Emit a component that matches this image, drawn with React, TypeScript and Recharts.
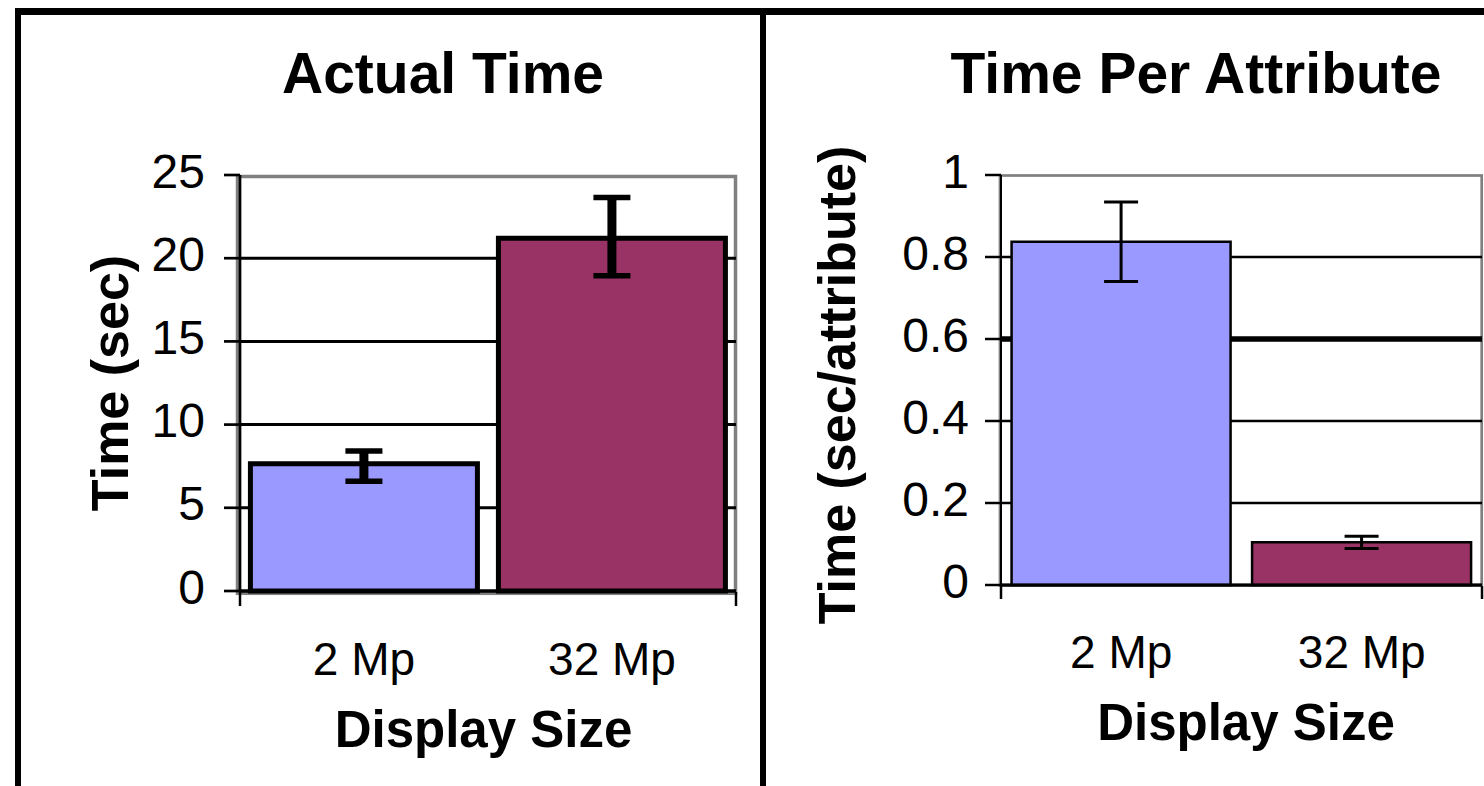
import React from 'react';
import { BarChart, Bar, XAxis, YAxis, CartesianGrid, ErrorBar, Cell } from 'recharts';

const categories = ['2 Mp', '32 Mp'];
const barColors = ['#9999FF', '#993366'];
const actualTime = [7.65, 21.2];
const actualTimeErr: [number, number][] = [[1.06, 0.76], [2.25, 2.45]];
const perAttribute = [0.837, 0.104];
const perAttributeErr = [0.097, 0.015];
const actualTicks = [0, 5, 10, 15, 20, 25];
const perAttributeTicks = [0, 0.2, 0.4, 0.6, 0.8, 1];
const boundaryTicks = [0, 1, 2];

const actualData = categories.map((c, i) => ({ name: c, value: actualTime[i], err: actualTimeErr[i] }));
const perAttrData = categories.map((c, i) => ({ name: c, value: perAttribute[i], err: perAttributeErr[i] }));

const FONT = '"Liberation Sans", Arial, Helvetica, sans-serif';

// layout
const L = { left: 0, width: 760, height: 786, plotX: 240, plotY: 175, plotR: 736, plotB: 591 };
const R = { left: 766, width: 718, height: 786, plotX: 1001, plotY: 175, plotR: 1482, plotB: 585 };
const AX = 1; // axis reserved size

const makeGrid = (top: number, bottom: number, domainMax: number, thickValue: number | null, normalW: number, thickW: number) =>
  (p: any) => {
    if (Math.abs(p.y1 - top) < 1) return <g key={p.key} />;
    const yThick = thickValue == null ? -999 : bottom - (thickValue / domainMax) * (bottom - top);
    const w = Math.abs(p.y1 - yThick) < 1.5 ? thickW : normalW;
    return <line key={p.key} x1={p.x1} y1={p.y1} x2={p.x2} y2={p.y2} stroke="#000" strokeWidth={w} />;
  };

const NoLabel = () => <g />;

export default function App() {
  return (
    <div style={{ position: 'absolute', left: 0, top: 0, width: 1484, height: 786, background: '#fff', overflow: 'hidden' }}>
      <svg width={1484} height={786} style={{ position: 'absolute', left: 0, top: 0 }}>
        <rect x={15} y={8} width={1469} height={7} fill="#000" />
        <rect x={15} y={8} width={6} height={778} fill="#000" />
        <rect x={760} y={8} width={6} height={778} fill="#000" />
        <rect x={237.5} y={176.5} width={498} height={416.8} fill="none" stroke="#808080" strokeWidth={3.5} />
        <rect x={1000} y={175.5} width={481.7} height={410} fill="none" stroke="#808080" strokeWidth={2.7} />
        <text x={443} y={93} textAnchor="middle" fontFamily={FONT} fontWeight="bold" fontSize={57} fill="#000">Actual Time</text>
        <text x={1196} y={93} textAnchor="middle" fontFamily={FONT} fontWeight="bold" fontSize={57} fill="#000">Time Per Attribute</text>
        <text x={128} y={383} transform="rotate(-90, 128, 383)" textAnchor="middle" fontFamily={FONT} fontWeight="bold" fontSize={52} fill="#000">Time (sec)</text>
        <text x={855} y={385} transform="rotate(-90, 855, 385)" textAnchor="middle" fontFamily={FONT} fontWeight="bold" fontSize={52} fill="#000">Time (sec/attribute)</text>
        <text x={483.5} y={747} textAnchor="middle" fontFamily={FONT} fontWeight="bold" fontSize={51} fill="#000">Display Size</text>
        <text x={1246} y={740} textAnchor="middle" fontFamily={FONT} fontWeight="bold" fontSize={51} fill="#000">Display Size</text>
      </svg>

      <div style={{ position: 'absolute', left: L.left, top: 0 }}>
        <BarChart
          width={L.width}
          height={L.height}
          data={actualData}
          margin={{ top: L.plotY, left: L.plotX - L.left - AX, right: L.left + L.width - L.plotR, bottom: L.height - L.plotB - 2 * AX }}
          barCategoryGap="4.2%"
        >
          <CartesianGrid vertical={false} horizontal={makeGrid(L.plotY, L.plotB, 25, null, 3, 3)} />
          <XAxis
            dataKey="name"
            type="category"
            height={AX}
            tickLine={false}
            axisLine={{ stroke: '#000', strokeWidth: 3 }}
            tickSize={0}
            tickMargin={51}
            interval={0}
            tick={{ fill: '#000', fontSize: 46, fontFamily: FONT }}
          />
          <XAxis
            xAxisId="edge"
            type="number"
            domain={[0, 2]}
            ticks={boundaryTicks}
            interval={0}
            height={AX}
            axisLine={false}
            tick={NoLabel}
            tickSize={14}
            tickLine={{ stroke: '#000', strokeWidth: 2.5 }}
          />
          <YAxis
            type="number"
            domain={[0, 25]}
            ticks={actualTicks}
            interval={0}
            width={AX}
            tickSize={16}
            tickMargin={19}
            axisLine={{ stroke: '#000', strokeWidth: 2.7 }}
            tickLine={{ stroke: '#000', strokeWidth: 2.7 }}
            tick={{ fill: '#000', fontSize: 48, fontFamily: FONT, dy: -4.5 }}
          />
          <Bar dataKey="value" isAnimationActive={false} stroke="#000" strokeWidth={5}>
            {actualData.map((d, i) => (
              <Cell key={d.name} fill={barColors[i]} />
            ))}
            <ErrorBar dataKey="err" width={0} strokeWidth={9} stroke="#000" isAnimationActive={false} />
            <ErrorBar dataKey="err" width={18.5} strokeWidth={5.5} stroke="#000" isAnimationActive={false} />
          </Bar>
        </BarChart>
      </div>

      <div style={{ position: 'absolute', left: R.left, top: 0 }}>
        <BarChart
          width={R.width}
          height={R.height}
          data={perAttrData}
          margin={{ top: R.plotY, left: R.plotX - R.left - AX, right: R.left + R.width - R.plotR, bottom: R.height - R.plotB - 2 * AX }}
          barCategoryGap="4.4%"
        >
          <CartesianGrid vertical={false} horizontal={makeGrid(R.plotY, R.plotB, 1, 0.6, 2.3, 5.5)} />
          <XAxis
            dataKey="name"
            type="category"
            height={AX}
            tickLine={false}
            axisLine={{ stroke: '#000', strokeWidth: 3 }}
            tickSize={0}
            tickMargin={50}
            interval={0}
            tick={{ fill: '#000', fontSize: 46, fontFamily: FONT }}
          />
          <XAxis
            xAxisId="edge"
            type="number"
            domain={[0, 2]}
            ticks={boundaryTicks}
            interval={0}
            height={AX}
            axisLine={false}
            tick={NoLabel}
            tickSize={13}
            tickLine={{ stroke: '#000', strokeWidth: 2.5 }}
          />
          <YAxis
            type="number"
            domain={[0, 1]}
            ticks={perAttributeTicks}
            interval={0}
            width={AX}
            tickSize={16}
            tickMargin={16}
            axisLine={{ stroke: '#000', strokeWidth: 2 }}
            tickLine={{ stroke: '#000', strokeWidth: 2.5 }}
            tick={{ fill: '#000', fontSize: 48, fontFamily: FONT, dy: -4.5 }}
          />
          <Bar dataKey="value" isAnimationActive={false} stroke="#000" strokeWidth={2.5}>
            {perAttrData.map((d, i) => (
              <Cell key={d.name} fill={barColors[i]} />
            ))}
            <ErrorBar dataKey="err" width={17} strokeWidth={3} stroke="#000" isAnimationActive={false} />
          </Bar>
        </BarChart>
      </div>
    </div>
  );
}
